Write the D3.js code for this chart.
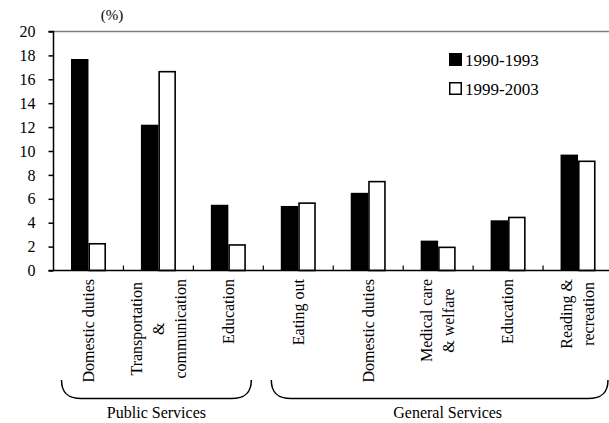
<!DOCTYPE html>
<html>
<head>
<meta charset="utf-8">
<script src="https://cdn.jsdelivr.net/npm/d3@7"></script>
<style>
  html, body { margin: 0; padding: 0; background: #fff; }
  svg { display: block; }
  svg text { font-family: 'Liberation Serif', 'Tinos', 'Times New Roman', Times, 'DejaVu Serif', serif !important; fill: #000; }
</style>
</head>
<body>
<div id="chart"></div>
<script>
// ---- data ----
const categories = [
  ["Domestic duties"],
  ["Transportation", "&", "communication"],
  ["Education"],
  ["Eating out"],
  ["Domestic duties"],
  ["Medical care", "& welfare"],
  ["Education"],
  ["Reading &", "recreation"]
];
const seriesNames = ["1990-1993", "1999-2003"];
const values1990 = [17.7, 12.2, 5.5, 5.4, 6.5, 2.5, 4.2, 9.7];
const values1999 = [2.3, 16.7, 2.2, 5.7, 7.5, 2.0, 4.5, 9.2];
const yTicks = [0, 2, 4, 6, 8, 10, 12, 14, 16, 18, 20];
const groupNames = ["Public Services", "General Services"];
const groupStart = [0, 3];
const groupEnd = [2, 7];
const unitLabel = "(%)";

// ---- layout ----
const W = 609, H = 423;
const mLeft = 53.5, mRight = 613, mTop = 31.5, mBottom = 270.5;
const FONT = "'Liberation Serif', 'Tinos', 'Times New Roman', Times, 'DejaVu Serif', serif";

const svg = d3.select("#chart").append("svg")
  .attr("width", W).attr("height", H)
  .attr("font-family", FONT);

const x = d3.scaleBand().domain(d3.range(categories.length))
  .range([mLeft, mRight]).paddingInner(0).paddingOuter(0);
const bw = x.bandwidth();
const xs = d3.scaleBand().domain([0, 1]).range([bw * 0.25, bw * 0.75]).padding(0);
const y = d3.scaleLinear().domain([0, 20]).range([mBottom, mTop]);

// top border (plot area)
svg.append("line")
  .attr("x1", mLeft).attr("x2", W + 5)
  .attr("y1", mTop).attr("y2", mTop)
  .attr("stroke", "#808080").attr("stroke-width", 1.5);

// bars
const series = [values1990, values1999];
series.forEach((vals, si) => {
  svg.append("g").selectAll("rect").data(vals).join("rect")
    .attr("x", (d, i) => x(i) + xs(si) + (si === 1 ? 0.75 : 0))
    .attr("y", d => y(d) + (si === 1 ? 0.75 : 0))
    .attr("width", xs.bandwidth() - (si === 1 ? 1.5 : 0))
    .attr("height", d => mBottom - y(d) - (si === 1 ? 0.75 : 0))
    .attr("fill", si === 0 ? "#000" : "#fff")
    .attr("stroke", si === 0 ? "none" : "#000")
    .attr("stroke-width", 1.6);
});

// y axis
const yAxis = d3.axisLeft(y).tickValues(yTicks).tickSize(5).tickPadding(13).tickFormat(d3.format("d"));
const gy = svg.append("g").attr("transform", `translate(${mLeft},0)`).call(yAxis);
gy.attr("font-family", FONT).attr("font-size", 16);
gy.select(".domain").attr("stroke", "#000").attr("stroke-width", 1.5).attr("d", `M-5,${mTop}H0V${mBottom}`);
gy.selectAll(".tick line").attr("stroke", "#000").attr("stroke-width", 1.5);
gy.selectAll(".tick text").attr("fill", "#000");

// x axis line and inside ticks
const xAxis = d3.axisBottom(x).tickSize(0).tickFormat("");
const gx = svg.append("g").attr("transform", `translate(0,${mBottom})`).call(xAxis);
gx.select(".domain").attr("stroke", "#000").attr("stroke-width", 1.5).attr("d", `M${mLeft - 5},0H${W + 5}`);
gx.selectAll(".tick").remove();
svg.append("g").selectAll("line").data(d3.range(1, categories.length)).join("line")
  .attr("x1", i => x(i)).attr("x2", i => x(i))
  .attr("y1", mBottom).attr("y2", mBottom - 5)
  .attr("stroke", "#000").attr("stroke-width", 1.2);

// category labels (rotated)
const labelTop = 279, lineH = 22;
categories.forEach((lines, i) => {
  const cx = x(i) + bw / 2;
  const g = svg.append("g");
  const texts = lines.map((ln, j) => g.append("text")
    .attr("text-anchor", "middle")
    .attr("font-size", 16)
    .text(ln));
  const maxLen = d3.max(texts, t => t.node().getComputedTextLength());
  texts.forEach((t, j) => {
    const px = cx + (j - (lines.length - 1) / 2) * lineH;
    const py = labelTop + maxLen / 2;
    t.attr("transform", `translate(${px},${py}) rotate(-90)`).attr("dy", "0.33em");
  });
});

// group braces
const braceTop = 380, braceBottom = 398.5;
groupNames.forEach((name, gi) => {
  const L = x(groupStart[gi]) + 8;
  const R = x(groupEnd[gi]) + bw - (gi === 0 ? 12 : 5);
  const p = d3.path();
  p.moveTo(L, braceTop);
  p.bezierCurveTo(L, braceBottom - 6, L + 6, braceBottom, L + 20, braceBottom);
  p.lineTo(R - 20, braceBottom);
  p.bezierCurveTo(R - 6, braceBottom, R, braceBottom - 6, R, braceTop);
  svg.append("path").attr("d", p.toString())
    .attr("fill", "none").attr("stroke", "#000").attr("stroke-width", 1.5);
  const cx = gi === 0 ? (L + R) / 2 : (L + Math.min(R, W)) / 2 + 8;
  svg.append("text").attr("x", cx)
    .attr("y", 418).attr("text-anchor", "middle")
    .attr("font-size", 16).text(name);
});

// unit label
svg.append("text").attr("x", 112).attr("y", 20).attr("text-anchor", "middle")
  .attr("font-size", 15).text(unitLabel);

// legend
const legY = [53, 82];
seriesNames.forEach((name, si) => {
  svg.append("rect")
    .attr("x", 449 + (si === 1 ? 0.75 : 0)).attr("y", legY[si] + (si === 1 ? 0.75 : 0))
    .attr("width", si === 1 ? 11.5 : 13).attr("height", si === 1 ? 11.5 : 13)
    .attr("fill", si === 0 ? "#000" : "#fff")
    .attr("stroke", si === 0 ? "none" : "#000").attr("stroke-width", 1.5);
  svg.append("text").attr("x", 465).attr("y", legY[si] + 13)
    .attr("font-size", 17).text(name);
});
</script>
</body>
</html>
